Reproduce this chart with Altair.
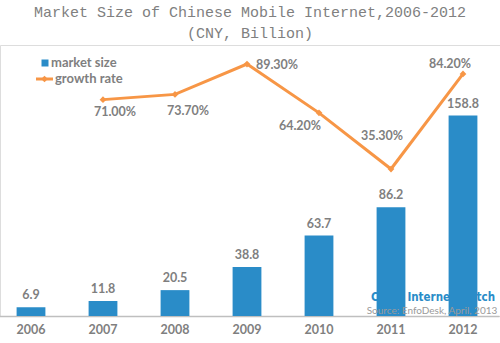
import altair as alt
import pandas as pd

years = ["2006", "2007", "2008", "2009", "2010", "2011", "2012"]
market_size = [6.9, 11.8, 20.5, 38.8, 63.7, 86.2, 158.8]
growth_years = ["2007", "2008", "2009", "2010", "2011", "2012"]
growth_rate = [71.0, 73.7, 89.3, 64.2, 35.3, 84.2]
growth_labels = ["71.00%", "73.70%", "89.30%", "64.20%", "35.30%", "84.20%"]
legend_labels = ["market size", "growth rate"]
title_lines = ["Market Size of Chinese Mobile Internet,2006-2012", "(CNY, Billion)"]
watermark_text = ["China Internet Watch"]
source_text = ["Source: EnfoDesk, April, 2013"]

bars_df = pd.DataFrame({"year": years, "size": market_size})
growth_df = pd.DataFrame({"year": growth_years, "rate": growth_rate, "label": growth_labels})

BLUE = "#2a8cc8"
ORANGE = "#f79646"
GRAY = "#7f7f7f"
FONT = "Lato"

x_enc = alt.X(
    "year:N",
    sort=years,
    scale=alt.Scale(domain=years, range=[-5, 499], paddingInner=0.6, paddingOuter=0.3),
    axis=alt.Axis(
        title=None, labelAngle=0, ticks=False, domainColor="#bfbfbf", domainWidth=1.5,
        labelColor=GRAY, labelFontSize=12.5, labelFont=FONT, labelFontWeight="bold",
        labelPadding=7, grid=False,
    ),
)

y_bar = alt.Y("size:Q", scale=alt.Scale(domain=[0, 214.7], nice=False, zero=True), axis=None)
y_line = alt.Y("rate:Q", scale=alt.Scale(domain=[-40.3, 99.1], nice=False, zero=False), axis=None)

watermark = alt.Chart(pd.DataFrame({"t": watermark_text})).mark_text(
    font="DejaVu Sans Condensed", fontWeight="bold", fontSize=11.5, color=BLUE, align="center", baseline="middle"
).encode(text="t:N", x=alt.value(433), y=alt.value(253))

bars = alt.Chart(bars_df).mark_bar(color=BLUE).encode(x=x_enc, y=y_bar)

bar_labels = alt.Chart(bars_df).mark_text(
    dy=-12, font=FONT, fontWeight="bold", fontSize=12.5, color=GRAY, baseline="middle"
).encode(x=x_enc, y=y_bar, text=alt.Text("size:Q", format=".1f"))

bar_layer = alt.layer(watermark, bars, bar_labels)

line = alt.Chart(growth_df).mark_line(
    color=ORANGE, strokeWidth=3,
    point=alt.OverlayMarkDef(shape="diamond", size=45, filled=True, color=ORANGE),
).encode(x=x_enc, y=y_line)

offsets = {"2007": (12, 12.5), "2008": (13, 17), "2009": (30, 1), "2010": (-19, 13), "2011": (-9, -33), "2012": (-13, -10)}
label_layers = []
for yr, (dx, dy) in offsets.items():
    label_layers.append(
        alt.Chart(growth_df).transform_filter(alt.datum.year == yr).mark_text(
            dx=dx, dy=dy, font=FONT, fontWeight="bold", fontSize=12.5, color=GRAY, baseline="middle"
        ).encode(x=x_enc, y=y_line, text="label:N")
    )

line_layer = alt.layer(line, *label_layers)

leg_df = pd.DataFrame({"label": legend_labels})
leg_square = alt.Chart(leg_df).transform_filter(alt.datum.label == legend_labels[0]).mark_square(
    color=BLUE, size=49, opacity=1
).encode(x=alt.value(45), y=alt.value(18))
leg_rule = alt.Chart(leg_df).transform_filter(alt.datum.label == legend_labels[1]).mark_rule(
    color=ORANGE, strokeWidth=3
).encode(x=alt.value(36), x2=alt.value(53), y=alt.value(34))
leg_diamond = alt.Chart(leg_df).transform_filter(alt.datum.label == legend_labels[1]).mark_point(
    shape="diamond", size=45, filled=True, color=ORANGE, opacity=1
).encode(x=alt.value(44.5), y=alt.value(34))
leg_text1 = alt.Chart(leg_df).transform_filter(alt.datum.label == legend_labels[0]).mark_text(
    align="left", baseline="middle", font=FONT, fontWeight="bold", fontSize=13, color=GRAY
).encode(text="label:N", x=alt.value(51), y=alt.value(18))
leg_text2 = alt.Chart(leg_df).transform_filter(alt.datum.label == legend_labels[1]).mark_text(
    align="left", baseline="middle", font=FONT, fontWeight="bold", fontSize=13, color=GRAY
).encode(text="label:N", x=alt.value(55), y=alt.value(34))

source = alt.Chart(pd.DataFrame({"t": source_text})).mark_text(
    font=FONT, fontSize=10, color="#9a9a9a", align="center", baseline="middle"
).encode(text="t:N", x=alt.value(432), y=alt.value(266))

chart = alt.layer(
    bar_layer, line_layer, leg_square, leg_rule, leg_diamond, leg_text1, leg_text2, source
).resolve_scale(y="independent").properties(
    width=500, height=271,
    autosize=alt.AutoSizeParams(type="none"),
    padding={"left": 0, "right": 0, "top": 45, "bottom": 27},
    title=alt.TitleParams(
        text=title_lines, font="Liberation Mono", fontSize=15, fontWeight="normal",
        color="#808080", anchor="middle", frame="group", lineHeight=21, offset=4,
    ),
).configure_view(stroke=None).configure(background="white")

chart.save("out.html", embed_options={"renderer": "svg", "actions": False})
